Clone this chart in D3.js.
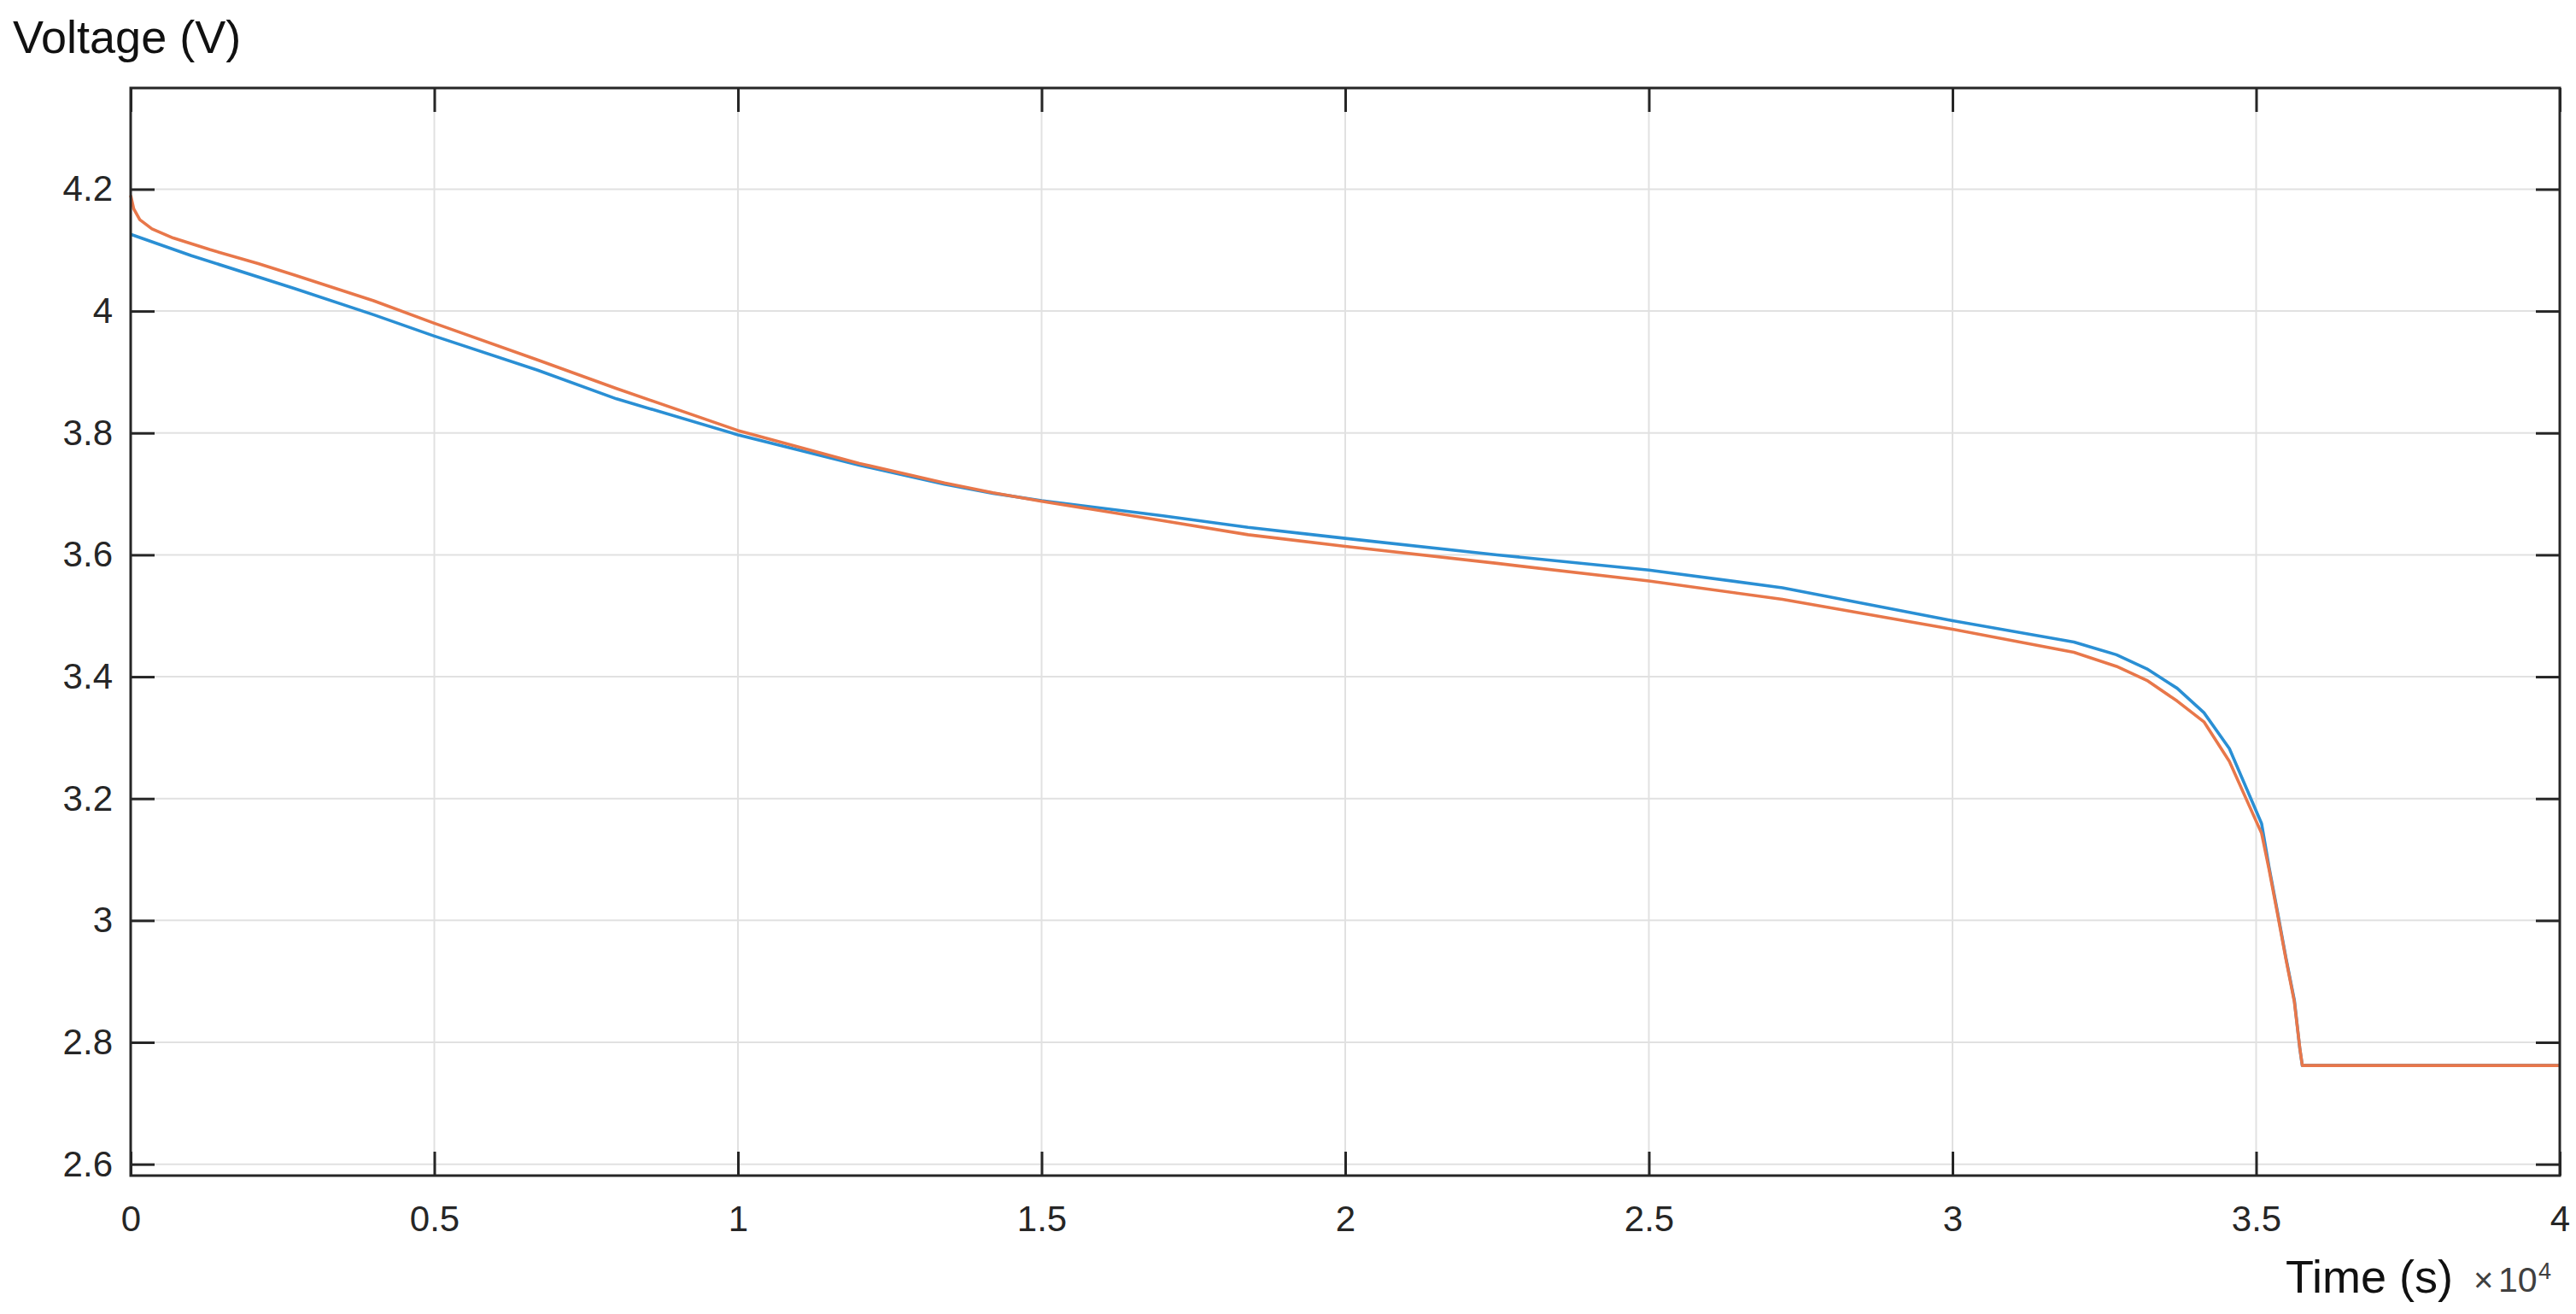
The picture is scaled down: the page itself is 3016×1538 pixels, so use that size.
<!DOCTYPE html>
<html>
<head>
<meta charset="utf-8">
<script src="https://cdn.jsdelivr.net/npm/d3@7"></script>
<style>
  body { margin: 0; background: #fff; }
  text { font-family: "Liberation Sans", Arial, sans-serif; }
</style>
</head>
<body>
<div id="viz"></div>
<script>
// time in seconds, voltage in volts
const timeBlue = [0, 1000, 2700, 4000, 5000, 6700, 8000, 10000, 12000, 13400, 14200, 15000, 17000, 18400, 20000,
    22500, 25000, 27200, 30000, 32000, 32700, 33200, 33700, 34140, 34560, 35090, 35210, 35350, 35490,
    35630, 35720, 35760, 40000];
const voltBlue = [4.126, 4.091, 4.037, 3.994, 3.959, 3.903, 3.856, 3.797, 3.747, 3.716, 3.701, 3.689, 3.664, 3.645, 3.627,
    3.600, 3.575, 3.546, 3.492, 3.457, 3.436, 3.413, 3.381, 3.341, 3.282, 3.159, 3.089, 3.015, 2.939,
    2.869, 2.789, 2.762, 2.762];

const timeOrange = [0, 50, 150, 350, 700, 1300, 2100, 2700, 4000, 5000, 6700, 8000, 10000, 12000, 13400, 14200, 15000,
    17000, 18400, 20000, 22500, 25000, 27200, 30000, 32000, 32700, 33200, 33700, 34140, 34560, 35090,
    35210, 35350, 35490, 35630, 35720, 35760, 40000];
const voltOrange = [4.19, 4.168, 4.15, 4.135, 4.12, 4.101, 4.078, 4.059, 4.017, 3.980, 3.920, 3.873, 3.804, 3.750, 3.718, 3.702, 3.688,
    3.656, 3.633, 3.614, 3.586, 3.557, 3.527, 3.478, 3.440, 3.417, 3.394, 3.360, 3.326, 3.261, 3.143,
    3.085, 3.012, 2.937, 2.866, 2.790, 2.762, 2.762];

const xTicks = [0, 5000, 10000, 15000, 20000, 25000, 30000, 35000, 40000];
const yTicks = [2.6, 2.8, 3.0, 3.2, 3.4, 3.6, 3.8, 4.0, 4.2];

const width = 3016;
const height = 1538;
const margin = {left: 153, right: 19, top: 103, bottom: 162};
const tickLen = 28;

const svg = d3.select("#viz").append("svg")
    .attr("width", width)
    .attr("height", height);

const xScale = d3.scaleLinear()
    .domain([0, 40000])
    .range([margin.left, width - margin.right]);

const yScale = d3.scaleLinear()
    .domain([2.5813, 4.3661])
    .range([height - margin.bottom, margin.top]);

// grid
svg.selectAll(".grid-x")
    .data(xTicks)
    .join("line")
        .attr("class", "grid-x")
        .attr("x1", d => xScale(d))
        .attr("x2", d => xScale(d))
        .attr("y1", margin.top)
        .attr("y2", height - margin.bottom)
        .attr("stroke", "#e1e1e1")
        .attr("stroke-width", 2);

svg.selectAll(".grid-y")
    .data(yTicks)
    .join("line")
        .attr("class", "grid-y")
        .attr("x1", margin.left)
        .attr("x2", width - margin.right)
        .attr("y1", d => yScale(d))
        .attr("y2", d => yScale(d))
        .attr("stroke", "#e1e1e1")
        .attr("stroke-width", 2);

// series
const line = d3.line()
    .x(d => xScale(d[0]))
    .y(d => yScale(d[1]));

const series = [
    {color: "#2a8fd4", points: d3.zip(timeBlue, voltBlue)},
    {color: "#e8774a", points: d3.zip(timeOrange, voltOrange)}
];

svg.selectAll(".series")
    .data(series)
    .join("path")
        .attr("class", "series")
        .attr("fill", "none")
        .attr("stroke", d => d.color)
        .attr("stroke-width", 3.6)
        .attr("stroke-linejoin", "round")
        .attr("d", d => line(d.points));

// axes with inward ticks
const fmtY = d3.format("~g");
const fmtX = d => d3.format("~g")(d / 1e4);

const styleAxis = g => {
    g.select(".domain").remove();
    g.selectAll(".tick line").attr("stroke", "#262626").attr("stroke-width", 3);
    g.selectAll(".tick text")
        .attr("fill", "#262626")
        .style("font-size", "42px")
        .style("font-family", '"Liberation Sans", Arial, sans-serif');
};

svg.append("g")
    .attr("transform", `translate(${margin.left},0)`)
    .call(d3.axisLeft(yScale).tickValues(yTicks).tickFormat(fmtY).tickSize(-tickLen).tickPadding(21))
    .call(styleAxis);

svg.append("g")
    .attr("transform", `translate(${width - margin.right},0)`)
    .call(d3.axisRight(yScale).tickValues(yTicks).tickFormat("").tickSize(-tickLen))
    .call(styleAxis);

svg.append("g")
    .attr("transform", `translate(0,${height - margin.bottom})`)
    .call(d3.axisBottom(xScale).tickValues(xTicks).tickFormat(fmtX).tickSize(-tickLen).tickPadding(35))
    .call(styleAxis);

svg.append("g")
    .attr("transform", `translate(0,${margin.top})`)
    .call(d3.axisTop(xScale).tickValues(xTicks).tickFormat("").tickSize(-tickLen))
    .call(styleAxis);

// box
svg.append("rect")
    .attr("x", margin.left)
    .attr("y", margin.top)
    .attr("width", width - margin.left - margin.right)
    .attr("height", height - margin.top - margin.bottom)
    .attr("fill", "none")
    .attr("stroke", "#262626")
    .attr("stroke-width", 3);

// titles
svg.append("text")
    .attr("x", 15)
    .attr("y", 62)
    .style("font-size", "54px")
    .style("fill", "#111")
    .text("Voltage (V)");

svg.append("text")
    .attr("x", 2676)
    .attr("y", 1513)
    .style("font-size", "54px")
    .style("fill", "#111")
    .text("Time (s)");

const expo = svg.append("text")
    .attr("y", 1512)
    .style("fill", "#404040");
expo.append("tspan")
    .attr("x", 2896)
    .style("font-size", "40px")
    .text("×");
expo.append("tspan")
    .attr("x", 2925)
    .style("font-size", "41px")
    .text("10");
expo.append("tspan")
    .attr("x", 2972)
    .attr("y", 1497)
    .style("font-size", "27px")
    .text("4");
</script>
</body>
</html>
